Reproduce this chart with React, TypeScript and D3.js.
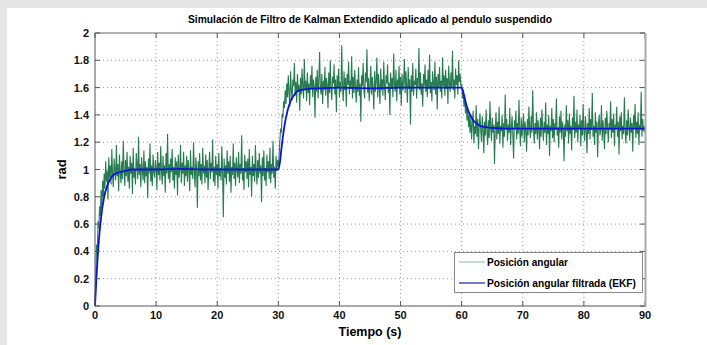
import React from "react";
import * as d3 from "d3";

// Posición angular medida (rad), una muestra cada 0.125 s de 0 a 90 s
const STEP = 0.125;
const medida = [
  // 0 - 30 s
  0.0, 0.21, 0.45, 0.38, 0.62, 0.57, 0.73, 0.66, 0.85, 0.71, 0.92, 0.8, 0.97, 0.86, 1.06, 0.91, 0.99, 0.78, 1.09, 0.94,
  1.03, 0.89, 1.15, 0.96, 0.87, 1.08, 1.0, 0.92, 1.18, 0.95, 1.04, 0.84, 1.11, 0.98, 0.9, 1.06, 0.93, 1.21, 1.01, 0.88,
  1.07, 0.95, 1.13, 0.91, 1.02, 0.86, 1.1, 0.97, 1.05, 0.82, 1.16, 0.94, 1.0, 0.89, 1.12, 1.03, 0.93, 1.24, 0.96, 1.04,
  0.87, 1.09, 0.99, 0.92, 1.14, 0.9, 1.06, 0.95, 1.02, 0.79, 1.08, 0.97, 1.19, 0.91, 1.03, 0.88, 1.11, 0.98, 0.94, 1.07,
  1.01, 0.85, 1.13, 0.96, 1.05, 0.92, 1.17, 0.99, 0.89, 1.1, 0.95, 1.03, 0.83, 1.12, 0.97, 1.26, 0.93, 1.04, 0.9, 1.08,
  0.98, 1.15, 0.92, 1.02, 0.86, 1.09, 0.96, 1.06, 0.81, 1.11, 0.94, 1.0, 1.18, 0.9, 1.05, 0.97, 1.13, 0.88, 1.03, 0.95,
  1.1, 0.91, 1.07, 0.99, 0.84, 1.14, 0.96, 1.02, 0.93, 1.2, 0.98, 0.87, 1.09, 1.01, 0.72, 1.06, 0.95, 1.12, 0.92, 1.04,
  0.89, 1.16, 0.97, 1.03, 0.9, 1.11, 0.94, 1.07, 0.85, 1.0, 1.13, 0.93, 1.05, 0.98, 1.22, 0.91, 1.02, 0.88, 1.1, 0.96,
  1.04, 0.86, 1.12, 0.95, 1.01, 0.92, 1.17, 0.99, 0.65, 1.08, 0.94, 1.03, 0.89, 1.14, 0.97, 1.06, 0.91, 1.1, 0.83, 1.02,
  0.96, 1.19, 0.93, 1.05, 0.88, 1.09, 1.0, 0.94, 1.13, 0.9, 1.04, 0.97, 1.25, 0.92, 1.01, 0.85, 1.11, 0.98, 1.06, 0.93,
  1.08, 0.87, 1.15, 0.96, 1.02, 0.8, 1.1, 0.95, 1.04, 0.91, 1.18, 0.99, 0.89, 1.07, 0.94, 1.12, 0.97, 1.03, 0.76, 1.09,
  0.95, 1.14, 0.92, 1.01, 0.88, 1.11, 0.98, 1.06, 0.93, 1.16, 0.9, 1.04, 0.97, 1.21, 0.94, 1.02, 0.86, 1.1, 0.99, 1.07,
  // 30 - 60 s
  1.02, 1.1, 1.21, 1.3, 1.27, 1.41, 1.38, 1.5, 1.45, 1.58, 1.48, 1.63, 1.53, 1.69, 1.56, 1.46, 1.72, 1.59, 1.51, 1.66,
  1.61, 1.78, 1.54, 1.64, 1.49, 1.7, 1.57, 1.62, 1.43, 1.67, 1.55, 1.74, 1.6, 1.52, 1.81, 1.58, 1.65, 1.5, 1.71, 1.56,
  1.63, 1.47, 1.69, 1.59, 1.76, 1.53, 1.66, 1.61, 1.38, 1.68, 1.57, 1.73, 1.52, 1.64, 1.86, 1.6, 1.55, 1.7, 1.48, 1.65,
  1.58, 1.75, 1.54, 1.67, 1.62, 1.45, 1.71, 1.56, 1.8, 1.59, 1.51, 1.68, 1.63, 1.77, 1.55, 1.66, 1.42, 1.69, 1.6, 1.74,
  1.53, 1.64, 1.57, 1.91, 1.61, 1.5, 1.72, 1.58, 1.67, 1.46, 1.7, 1.62, 1.79, 1.55, 1.65, 1.59, 1.83, 1.52, 1.68, 1.56,
  1.73, 1.6, 1.49, 1.66, 1.57, 1.75, 1.54, 1.63, 1.35, 1.69, 1.61, 1.78, 1.58, 1.52, 1.71, 1.64, 1.88, 1.56, 1.67, 1.5,
  1.62, 1.76, 1.55, 1.68, 1.59, 1.44, 1.72, 1.57, 1.65, 1.82, 1.53, 1.7, 1.6, 1.48, 1.74, 1.58, 1.66, 1.54, 1.79, 1.61,
  1.51, 1.69, 1.63, 1.77, 1.56, 1.64, 1.4, 1.71, 1.59, 1.67, 1.53, 1.85, 1.62, 1.57, 1.73, 1.5, 1.66, 1.6, 1.76, 1.55,
  1.68, 1.47, 1.7, 1.58, 1.64, 1.81, 1.56, 1.72, 1.61, 1.49, 1.75, 1.59, 1.66, 1.33, 1.69, 1.57, 1.78, 1.54, 1.65, 1.62,
  1.74, 1.52, 1.67, 1.6, 1.89, 1.58, 1.71, 1.55, 1.63, 1.46, 1.7, 1.61, 1.77, 1.57, 1.66, 1.53, 1.73, 1.59, 1.84, 1.56,
  1.64, 1.5, 1.72, 1.62, 1.58, 1.79, 1.55, 1.68, 1.44, 1.7, 1.6, 1.75, 1.57, 1.65, 1.52, 1.82, 1.61, 1.69, 1.54, 1.73,
  1.59, 1.67, 1.48, 1.76, 1.63, 1.57, 1.71, 1.6, 1.87, 1.58, 1.66, 1.52, 1.74, 1.62, 1.69, 1.55, 1.8, 1.64, 1.7, 1.61,
  // 60 - 90 s
  1.63, 1.52, 1.58, 1.46, 1.55, 1.41, 1.49, 1.36, 1.45, 1.31, 1.4, 1.27, 1.38, 1.22, 1.34, 1.43, 1.19, 1.32, 1.26, 1.47,
  1.24, 1.37, 1.15, 1.33, 1.41, 1.28, 1.2, 1.39, 1.3, 1.12, 1.35, 1.25, 1.44, 1.29, 1.18, 1.36, 1.23, 1.5, 1.31, 1.21,
  1.38, 1.27, 1.33, 1.04, 1.3, 1.42, 1.22, 1.35, 1.26, 1.46, 1.19, 1.32, 1.28, 1.4, 1.16, 1.34, 1.24, 1.55, 1.29, 1.37,
  1.21, 1.33, 1.27, 1.45, 1.18, 1.31, 1.39, 1.25, 1.08, 1.36, 1.3, 1.43, 1.22, 1.34, 1.26, 1.51, 1.29, 1.17, 1.38, 1.24,
  1.32, 1.41, 1.2, 1.35, 1.28, 1.13, 1.37, 1.25, 1.46, 1.3, 1.23, 1.39, 1.27, 1.58, 1.31, 1.19, 1.34, 1.26, 1.42, 1.22,
  1.36, 1.29, 1.15, 1.38, 1.24, 1.44, 1.31, 1.21, 1.35, 1.27, 1.49, 1.18, 1.33, 1.26, 1.4, 1.1, 1.32, 1.28, 1.45, 1.23,
  1.37, 1.2, 1.34, 1.29, 1.52, 1.25, 1.31, 1.16, 1.39, 1.27, 1.43, 1.22, 1.35, 1.3, 1.06, 1.33, 1.24, 1.47, 1.28, 1.36,
  1.19, 1.41, 1.26, 1.32, 1.14, 1.38, 1.29, 1.54, 1.23, 1.35, 1.27, 1.44, 1.2, 1.33, 1.3, 1.4, 1.17, 1.36, 1.25, 1.48,
  1.28, 1.21, 1.39, 1.31, 1.12, 1.34, 1.26, 1.45, 1.22, 1.37, 1.29, 1.56, 1.24, 1.32, 1.18, 1.42, 1.27, 1.35, 1.09, 1.33,
  1.4, 1.25, 1.3, 1.47, 1.21, 1.36, 1.28, 1.15, 1.38, 1.26, 1.43, 1.31, 1.2, 1.34, 1.29, 1.5, 1.23, 1.37, 1.27, 1.41,
  1.17, 1.33, 1.3, 1.46, 1.24, 1.35, 1.11, 1.39, 1.28, 1.42, 1.22, 1.32, 1.26, 1.53, 1.29, 1.19, 1.36, 1.25, 1.44, 1.31,
  1.21, 1.38, 1.27, 1.34, 1.13, 1.4, 1.3, 1.48, 1.23, 1.35, 1.26, 1.42, 1.18, 1.33, 1.29, 1.57, 1.24, 1.37, 1.28, 1.32,
  1.27,
];

// Salida del filtro (EKF)
const tFiltro = [0, 0.25, 0.5, 0.75, 1, 1.5, 2, 2.5, 3, 4, 5, 6, 8, 10, 14, 18, 22, 26, 30, 30.25, 30.5, 31, 31.5, 32, 32.5, 33, 34, 35, 37, 40, 45, 50, 55, 60, 60.25, 60.5, 61, 61.5, 62, 62.5, 63, 64, 65, 67, 70, 75, 80, 85, 90];
const vFiltro = [0, 0.22, 0.4, 0.54, 0.65, 0.8, 0.88, 0.93, 0.96, 0.98, 0.99, 1.0, 1.0, 1.0, 1.005, 1.0, 1.0, 1.0, 1.0, 1.05, 1.15, 1.32, 1.43, 1.5, 1.54, 1.57, 1.585, 1.59, 1.595, 1.6, 1.595, 1.6, 1.6, 1.6, 1.57, 1.52, 1.44, 1.39, 1.355, 1.335, 1.32, 1.31, 1.305, 1.3, 1.3, 1.3, 1.3, 1.3, 1.3];

const xTicks = [0, 10, 20, 30, 40, 50, 60, 70, 80, 90];
const yTicks = [0, 0.2, 0.4, 0.6, 0.8, 1, 1.2, 1.4, 1.6, 1.8, 2];

const W = 707;
const H = 345;
const m = { left: 95, right: 645, top: 33, bottom: 306 };
const font = "Arial, 'Liberation Sans', Helvetica, sans-serif";

export default function App() {
  const x = d3.scaleLinear().domain([0, 90]).range([m.left, m.right]);
  const y = d3.scaleLinear().domain([0, 2]).range([m.bottom, m.top]);

  const lineMedida = d3
    .line<number>()
    .x((_, i) => x(i * STEP))
    .y((d) => y(d));
  const lineFiltro = d3
    .line<number>()
    .x((_, i) => x(tFiltro[i]))
    .y((d) => y(d))
    .curve(d3.curveMonotoneX);

  return (
    <svg
      width={W}
      height={H}
      style={{ position: "absolute", left: 0, top: 0 }}
      fontFamily={font}
    >
      <rect width={W} height={H} fill="#e6e6e6" />
      <rect x={7} y={8} width={W - 7} height={H - 8} fill="#ffffff" />

      <text
        x={370}
        y={23}
        textAnchor="middle"
        fontSize={11}
        fontWeight="bold"
        textLength={364}
        lengthAdjust="spacingAndGlyphs"
      >
        Simulación de Filtro de Kalman Extendido aplicado al pendulo suspendido
      </text>

      {/* rejilla */}
      <g stroke="#9a9a9a" strokeWidth={1} strokeDasharray="1,3">
        {xTicks.slice(1, -1).map((t) => (
          <line key={"gx" + t} x1={x(t)} x2={x(t)} y1={m.top} y2={m.bottom} />
        ))}
        {yTicks.slice(1, -1).map((t) => (
          <line key={"gy" + t} x1={m.left} x2={m.right} y1={y(t)} y2={y(t)} />
        ))}
      </g>

      <path d={lineMedida(medida) ?? ""} fill="none" stroke="#267c50" strokeWidth={1.1} />
      <path d={lineFiltro(vFiltro) ?? ""} fill="none" stroke="#0a14d8" strokeWidth={1.8} />

      {/* marco y marcas */}
      <g stroke="#555" strokeWidth={1}>
        <line x1={m.left} x2={m.right} y1={m.top} y2={m.top} stroke="#666" />
        <line x1={m.left} x2={m.left} y1={m.top} y2={m.bottom} />
        <line x1={m.left} x2={m.right} y1={m.bottom} y2={m.bottom} />
        {xTicks.map((t) => (
          <g key={"tx" + t}>
            <line x1={x(t)} x2={x(t)} y1={m.bottom} y2={m.bottom - 5} />
            <line x1={x(t)} x2={x(t)} y1={m.top} y2={m.top + 5} />
          </g>
        ))}
        {yTicks.map((t) => (
          <g key={"ty" + t}>
            <line x1={m.left} x2={m.left + 5} y1={y(t)} y2={y(t)} />
            <line x1={m.right} x2={m.right - 5} y1={y(t)} y2={y(t)} />
          </g>
        ))}
      </g>
      <line x1={m.right + 0.5} x2={m.right + 0.5} y1={m.top} y2={m.bottom + 1} stroke="#aaa" strokeWidth={2} />

      <g fontSize={11} fontWeight="bold" fill="#111">
        {xTicks.map((t) => (
          <text key={"lx" + t} x={x(t)} y={m.bottom + 13} textAnchor="middle">
            {t}
          </text>
        ))}
        {yTicks.map((t) => (
          <text key={"ly" + t} x={m.left - 6} y={y(t) + 4} textAnchor="end">
            {t}
          </text>
        ))}
      </g>

      <text x={370} y={336} textAnchor="middle" fontSize={12.5} fontWeight="bold">
        Tiempo (s)
      </text>
      <text
        transform={`translate(66,${(m.top + m.bottom) / 2}) rotate(-90)`}
        textAnchor="middle"
        fontSize={13}
        fontWeight="bold"
      >
        rad
      </text>

      {/* leyenda */}
      <g>
        <rect x={454.5} y={252.5} width={188} height={40} fill="#fff" stroke="#888" />
        <line x1={459} x2={485} y1={262} y2={262} stroke="#7fb9a6" strokeWidth={1} />
        <line x1={459} x2={485} y1={283} y2={283} stroke="#4a4ad0" strokeWidth={1.5} />
        <g fontSize={11} fontWeight="bold">
          <text x={487} y={266} textLength={81} lengthAdjust="spacingAndGlyphs">
            Posición angular
          </text>
          <text x={487} y={287} textLength={149} lengthAdjust="spacingAndGlyphs">
            Posición angular filtrada (EKF)
          </text>
        </g>
      </g>
    </svg>
  );
}
